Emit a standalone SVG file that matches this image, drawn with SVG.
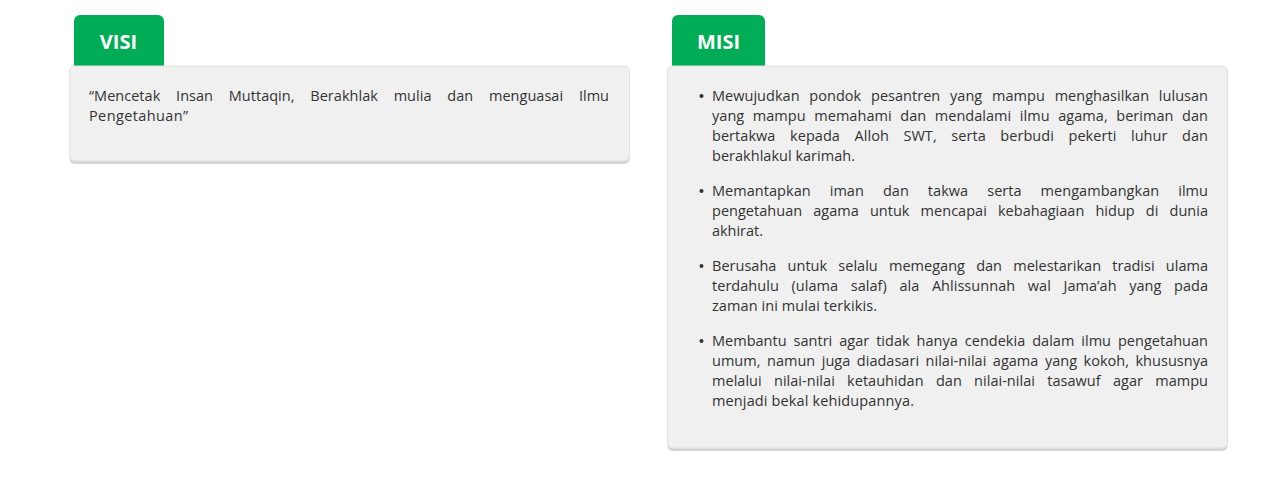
<svg xmlns="http://www.w3.org/2000/svg" width="1270" height="481" viewBox="0 0 1270 481">
<style>
.tab{fill:#00ad56}
.tabtxt{font-family:"Open Sans","Liberation Sans",sans-serif;font-weight:700;font-size:20px;fill:#ffffff;text-anchor:middle}
.card{fill:#f0f0f0;stroke:#e2e2e2;stroke-width:1}
.shadow{fill:#d6d6d6}
.t{font-family:"Open Sans","Liberation Sans",sans-serif;font-size:14.5px;fill:#333333}
.dot{fill:#333333}
</style>
<rect width="1270" height="481" fill="#ffffff"/>
<g id="visi">
  <path class="tab" d="M74,67 V21 a6,6 0 0 1 6,-6 H158 a6,6 0 0 1 6,6 V67 Z"/>
  <text class="tabtxt" x="118.5" y="49">VISI</text>
  <rect class="shadow" x="69.5" y="69" width="560" height="95" rx="5"/>
  <rect class="card" x="69.5" y="66" width="560" height="95" rx="5"/>
  <text class="t" x="89" y="101" word-spacing="12" textLength="520" lengthAdjust="spacing">“Mencetak Insan Muttaqin, Berakhlak mulia dan menguasai Ilmu</text>
  <text class="t" x="89" y="121" textLength="99" lengthAdjust="spacing">Pengetahuan”</text>
</g>
<g id="misi">
  <path class="tab" d="M672,67 V21 a6,6 0 0 1 6,-6 H759 a6,6 0 0 1 6,6 V67 Z"/>
  <text class="tabtxt" x="718.5" y="49">MISI</text>
  <rect class="shadow" x="667.5" y="69" width="560" height="382" rx="5"/>
  <rect class="card" x="667.5" y="66" width="560" height="382" rx="5"/>
  <circle class="dot" cx="701.5" cy="96" r="2"/>
  <text class="t" x="712" y="101" word-spacing="6" textLength="496" lengthAdjust="spacing">Mewujudkan pondok pesantren yang mampu menghasilkan lulusan</text>
  <text class="t" x="712" y="121" word-spacing="4.8" textLength="496" lengthAdjust="spacing">yang mampu memahami dan mendalami ilmu agama, beriman dan</text>
  <text class="t" x="712" y="141" word-spacing="10.8" textLength="496" lengthAdjust="spacing">bertakwa kepada Alloh SWT, serta berbudi pekerti luhur dan</text>
  <text class="t" x="712" y="161" textLength="143" lengthAdjust="spacing">berakhlakul karimah.</text>
  <circle class="dot" cx="701.5" cy="191" r="2"/>
  <text class="t" x="712" y="196" word-spacing="15.2" textLength="496" lengthAdjust="spacing">Memantapkan iman dan takwa serta mengambangkan ilmu</text>
  <text class="t" x="712" y="216" word-spacing="7.3" textLength="496" lengthAdjust="spacing">pengetahuan agama untuk mencapai kebahagiaan hidup di dunia</text>
  <text class="t" x="712" y="236" textLength="51" lengthAdjust="spacing">akhirat.</text>
  <circle class="dot" cx="701.5" cy="266" r="2"/>
  <text class="t" x="712" y="271" word-spacing="7.4" textLength="496" lengthAdjust="spacing">Berusaha untuk selalu memegang dan melestarikan tradisi ulama</text>
  <text class="t" x="712" y="291" word-spacing="8.8" textLength="496" lengthAdjust="spacing">terdahulu (ulama salaf) ala Ahlissunnah wal Jama’ah yang pada</text>
  <text class="t" x="712" y="311" textLength="165" lengthAdjust="spacing">zaman ini mulai terkikis.</text>
  <circle class="dot" cx="701.5" cy="341" r="2"/>
  <text class="t" x="712" y="346" word-spacing="3.2" textLength="496" lengthAdjust="spacing">Membantu santri agar tidak hanya cendekia dalam ilmu pengetahuan</text>
  <text class="t" x="712" y="366" word-spacing="2.7" textLength="496" lengthAdjust="spacing">umum, namun juga diadasari nilai-nilai agama yang kokoh, khususnya</text>
  <text class="t" x="712" y="386" word-spacing="8.5" textLength="496" lengthAdjust="spacing">melalui nilai-nilai ketauhidan dan nilai-nilai tasawuf agar mampu</text>
  <text class="t" x="712" y="406" textLength="202" lengthAdjust="spacing">menjadi bekal kehidupannya.</text>
</g>
</svg>
